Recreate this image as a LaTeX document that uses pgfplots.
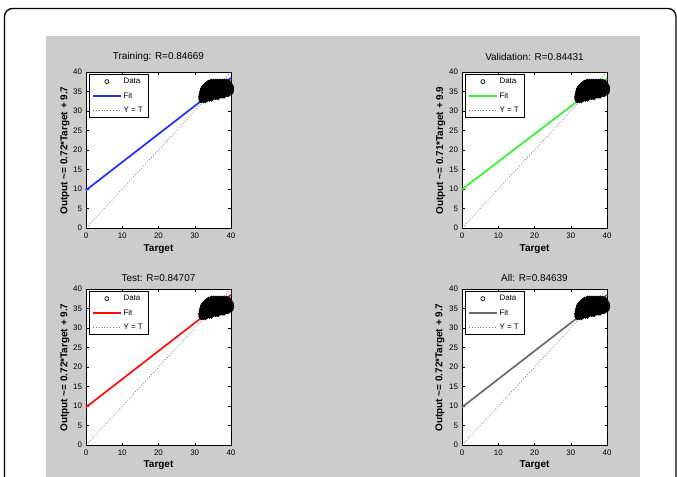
\documentclass[border=0pt]{standalone}
\usepackage{fontspec}
\setmainfont{Liberation Sans}
\usepackage{pgfplots}
\usepackage{pgfplotstable}
\pgfplotsset{compat=1.18}
\pgfplotstableread{
x y
31.8 32.6
32.4 32.6
33.0 32.6
31.6 33.0
32.2 33.0
32.8 33.0
33.4 33.0
34.0 33.0
34.6 33.0
31.6 33.4
32.2 33.4
32.8 33.4
33.4 33.4
34.0 33.4
34.6 33.4
35.2 33.4
35.8 33.4
36.4 33.4
31.6 33.8
32.2 33.8
32.8 33.8
33.4 33.8
34.0 33.8
34.6 33.8
35.2 33.8
35.8 33.8
36.4 33.8
37.0 33.8
37.6 33.8
38.1 33.8
31.7 34.2
32.3 34.2
32.9 34.2
33.5 34.2
34.1 34.2
34.7 34.2
35.3 34.2
35.9 34.2
36.5 34.2
37.1 34.2
37.7 34.2
38.3 34.2
38.9 34.2
39.3 34.2
31.8 34.6
32.4 34.6
33.0 34.6
33.6 34.6
34.2 34.6
34.8 34.6
35.4 34.6
36.0 34.6
36.6 34.6
37.2 34.6
37.8 34.6
38.4 34.6
39.0 34.6
39.6 34.6
40.0 34.6
31.9 35.0
32.5 35.0
33.1 35.0
33.7 35.0
34.3 35.0
34.9 35.0
35.5 35.0
36.1 35.0
36.7 35.0
37.3 35.0
37.9 35.0
38.5 35.0
39.1 35.0
39.7 35.0
40.2 35.0
32.0 35.4
32.6 35.4
33.2 35.4
33.8 35.4
34.4 35.4
35.0 35.4
35.6 35.4
36.2 35.4
36.8 35.4
37.4 35.4
38.0 35.4
38.6 35.4
39.2 35.4
39.8 35.4
40.2 35.4
32.1 35.8
32.7 35.8
33.3 35.8
33.9 35.8
34.5 35.8
35.1 35.8
35.7 35.8
36.3 35.8
36.9 35.8
37.5 35.8
38.1 35.8
38.7 35.8
39.3 35.8
39.9 35.8
40.2 35.8
32.4 36.2
33.0 36.2
33.6 36.2
34.2 36.2
34.8 36.2
35.4 36.2
36.0 36.2
36.6 36.2
37.2 36.2
37.8 36.2
38.4 36.2
39.0 36.2
39.6 36.2
40.2 36.2
32.8 36.6
33.4 36.6
34.0 36.6
34.6 36.6
35.2 36.6
35.8 36.6
36.4 36.6
37.0 36.6
37.6 36.6
38.2 36.6
38.8 36.6
39.4 36.6
40.0 36.6
33.2 37.0
33.8 37.0
34.4 37.0
35.0 37.0
35.6 37.0
36.2 37.0
36.8 37.0
37.4 37.0
38.0 37.0
38.6 37.0
39.2 37.0
39.7 37.0
33.8 37.4
34.4 37.4
35.0 37.4
35.6 37.4
36.2 37.4
36.8 37.4
37.4 37.4
38.0 37.4
38.6 37.4
39.2 37.4
39.5 37.4
34.6 37.7
35.2 37.7
35.8 37.7
36.4 37.7
37.0 37.7
37.6 37.7
38.2 37.7
38.8 37.7
}\blob
\definecolor{figgray}{gray}{0.8}
\definecolor{fitblue}{rgb}{0.12,0.18,1}
\definecolor{fitgreen}{rgb}{0.2,0.95,0.2}
\definecolor{fitred}{rgb}{1,0.05,0.05}
\definecolor{fitgray}{rgb}{0.42,0.42,0.42}
\definecolor{idgray}{gray}{0.45}
\pgfplotsset{
  regplot/.style={
    scale only axis, width=145bp, height=156bp,
    xmin=0,xmax=40,ymin=0,ymax=40,
    xtick={0,10,20,30,40}, ytick={0,5,10,15,20,25,30,35,40},
    tick align=inside, major tick length=2.5bp,
    axis line style={line width=0.5bp},
    tick style={line width=0.4bp, black},
    ticklabel style={font=\fontsize{8}{9.6}\selectfont},
    xticklabel style={yshift=-1bp},
    yticklabel style={xshift=-0.5bp},
    /pgf/number format/assume math mode=true,
    clip=false,
    axis background/.style={fill=white},
    legend style={at={(0.02,0.988)}, anchor=north west,
      font=\fontsize{8}{9.6}\selectfont, draw=black, line width=0.5bp,
      inner xsep=3bp, inner ysep=2bp, row sep=3.2bp,
      cells={anchor=west}},
    legend image code/.code={\draw[mark repeat=2,mark phase=2,##1] plot coordinates {(0bp,0bp) (14bp,0bp) (28bp,0bp)};},
  },
  dataplot/.style={only marks, mark=*, black, mark size=1.9bp, mark options={draw=black, fill=black, line width=0.8bp}},
  legdata/.style={only marks, mark=o, black, mark size=2.0bp, mark options={line width=0.7bp}},
  idline/.style={idgray, line width=0.7bp, dash pattern=on 0.9bp off 2bp},
}
\begin{document}
\begin{tikzpicture}
\useasboundingbox (0bp,0bp) rectangle (677bp,-477bp);
\fill[figgray] (45.7bp,-36bp) rectangle (640bp,-480bp);
\draw[line width=1.3bp, rounded corners=8bp] (4.5bp,-490bp) -- (4.5bp,-8.5bp) -- (676bp,-8.5bp) -- (676bp,-490bp);

% Training
\begin{axis}[regplot, at={(86bp,-228bp)}, anchor=south west]
\addplot[idline, forget plot] coordinates {(0,0) (40,40)};
\addplot[fitblue, line width=1.7bp, forget plot] coordinates {(0,9.7) (40,38.5)};
\addplot[dataplot, forget plot] table {\blob};
\addlegendimage{legdata}\addlegendentry{Data}
\addlegendimage{fitblue, line width=1.4bp}\addlegendentry{Fit}
\addlegendimage{idline}\addlegendentry{Y = T}
\end{axis}

% Validation
\begin{axis}[regplot, at={(462bp,-228bp)}, anchor=south west]
\addplot[idline, forget plot] coordinates {(0,0) (40,40)};
\addplot[fitgreen, line width=1.7bp, forget plot] coordinates {(0,9.9) (40,38.3)};
\addplot[dataplot, forget plot] table {\blob};
\addlegendimage{legdata}\addlegendentry{Data}
\addlegendimage{fitgreen, line width=1.4bp}\addlegendentry{Fit}
\addlegendimage{idline}\addlegendentry{Y = T}
\end{axis}

% Test
\begin{axis}[regplot, at={(86bp,-445bp)}, anchor=south west]
\addplot[idline, forget plot] coordinates {(0,0) (40,40)};
\addplot[fitred, line width=1.7bp, forget plot] coordinates {(0,9.7) (40,38.5)};
\addplot[dataplot, forget plot] table {\blob};
\addlegendimage{legdata}\addlegendentry{Data}
\addlegendimage{fitred, line width=1.4bp}\addlegendentry{Fit}
\addlegendimage{idline}\addlegendentry{Y = T}
\end{axis}

% All
\begin{axis}[regplot, at={(462bp,-445bp)}, anchor=south west]
\addplot[idline, forget plot] coordinates {(0,0) (40,40)};
\addplot[fitgray, line width=1.7bp, forget plot] coordinates {(0,9.7) (40,38.5)};
\addplot[dataplot, forget plot] table {\blob};
\addlegendimage{legdata}\addlegendentry{Data}
\addlegendimage{fitgray, line width=1.4bp}\addlegendentry{Fit}
\addlegendimage{idline}\addlegendentry{Y = T}
\end{axis}

% titles
\begin{scope}[every node/.style={font=\fontsize{10}{12}\selectfont, anchor=center, inner sep=0pt}]
\node at (158.5bp,-57bp) {Training: R=0.84669};
\node at (534.5bp,-57bp) {Validation: R=0.84431};
\node at (158.5bp,-278.3bp) {Test: R=0.84707};
\node at (534.5bp,-278.3bp) {All: R=0.84639};
\end{scope}
% axis labels
\begin{scope}[every node/.style={font=\bfseries\fontsize{10}{12}\selectfont, anchor=center, inner sep=0pt}]
\node at (158.5bp,-248.7bp) {Target};
\node at (534.5bp,-249bp) {Target};
\node at (158.5bp,-464.7bp) {Target};
\node at (534.5bp,-464.7bp) {Target};
\node[rotate=90] at (65bp,-150.5bp) {Output \textasciitilde= 0.72*Target + 9.7};
\node[rotate=90] at (440.7bp,-150.5bp) {Output \textasciitilde= 0.71*Target + 9.9};
\node[rotate=90] at (65bp,-367.5bp) {Output \textasciitilde= 0.72*Target + 9.7};
\node[rotate=90] at (440bp,-367.5bp) {Output \textasciitilde= 0.72*Target + 9.7};
\end{scope}
\end{tikzpicture}
\end{document}
